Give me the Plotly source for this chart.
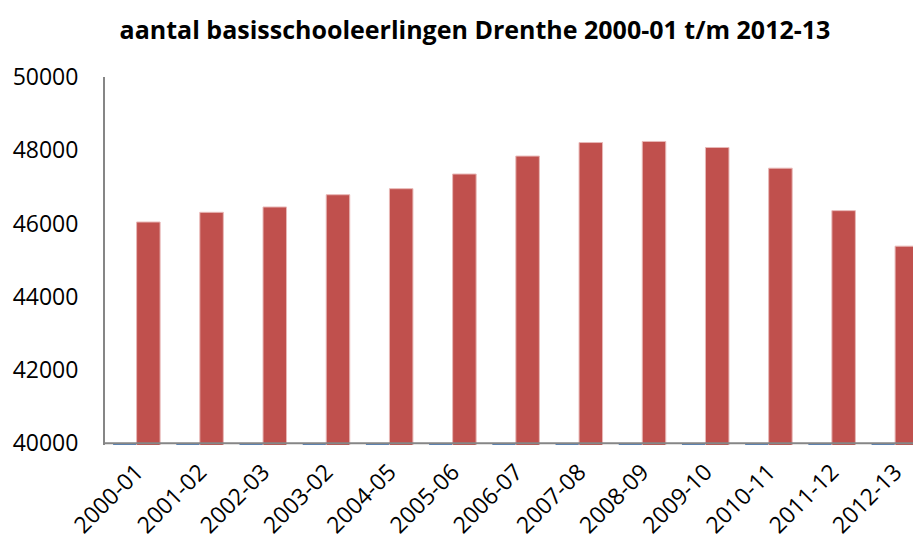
import plotly.graph_objects as go

categories = ["2000-01", "2001-02", "2002-03", "2003-02", "2004-05", "2005-06", "2006-07",
              "2007-08", "2008-09", "2009-10", "2010-11", "2011-12", "2012-13"]
leerlingen = [46040, 46305, 46450, 46785, 46950, 47350, 47840,
              48210, 48240, 48075, 47510, 46350, 45380]
# first (blue) series sits just below the axis minimum, drawn as a thin sliver
blue_series = [39990] * 13
y_ticks = [40000, 42000, 44000, 46000, 48000, 50000]

W, H = 913, 532  # page body has an 8px margin

fig = go.Figure()
fig.add_trace(go.Bar(x=categories, y=blue_series, marker_color="#4F81BD",
                     marker_line_width=0, showlegend=False))
fig.add_trace(go.Bar(x=categories, y=leerlingen, marker_color="#C0504D",
                     marker_line=dict(color="#E8B8B7", width=1), showlegend=False))

fig.add_shape(type="line", xref="paper", yref="y", x0=0, x1=1, y0=40000, y1=40000,
              line=dict(color="#868686", width=2), layer="above")

fig.update_layout(
    width=W, height=H,
    margin=dict(l=97, r=0, t=69, b=94.5),
    paper_bgcolor="white", plot_bgcolor="white",
    barmode="group", bargap=0.256, bargroupgap=0,
    title=dict(text="<b>aantal basisschooleerlingen Drenthe 2000-01 t/m 2012-13</b>",
               x=(475 - 8) / W, xanchor="center", xref="container",
               y=1 - 22 / H, yanchor="middle", yref="container",
               font=dict(family="Open Sans", size=25, color="black")),
    font=dict(family="Open Sans", color="black"),
    xaxis=dict(type="category", range=[-0.5, 12.41], showgrid=False, showline=False, ticks="",
               tickangle=-45, automargin=False, ticklabelstandoff=8,
               tickfont=dict(size=23, family="Open Sans", color="black")),
    yaxis=dict(range=[39950, 50000], tickvals=y_ticks, tickformat="d", showgrid=False,
               zeroline=False, automargin=False,
               showline=True, linecolor="#868686", linewidth=2, ticks="",
               ticklabelstandoff=20,
               tickfont=dict(size=23, family="Open Sans", color="black")),
)

fig.write_html("out.html")
